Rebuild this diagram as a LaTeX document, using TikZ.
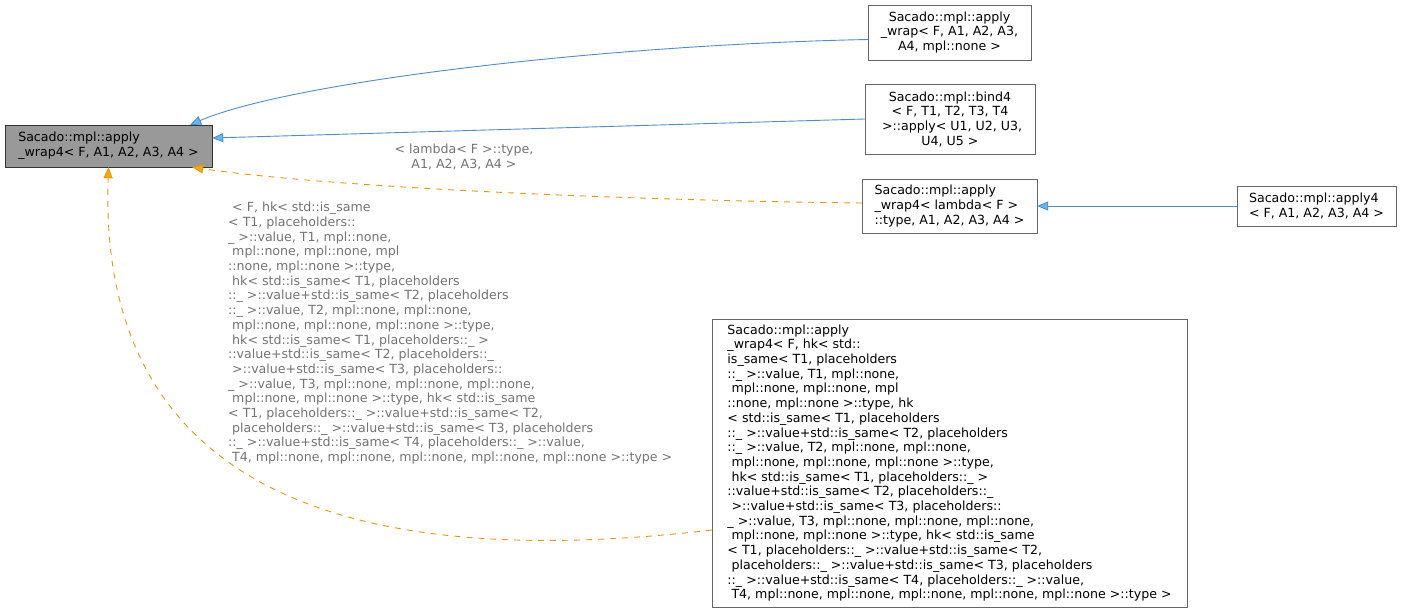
\documentclass[tikz,border=0pt]{standalone}
\usepackage{fontspec}
\setmainfont{DejaVu Sans}
\usetikzlibrary{arrows.meta}

\definecolor{edgeblue}{HTML}{4A8ED6}
\definecolor{tipblue}{HTML}{63B8FF}
\definecolor{edgeorange}{HTML}{E59A00}
\definecolor{tiporange}{HTML}{FFA500}

\newcommand{\dxfont}{\fontsize{12.6}{14.7}\selectfont}
\newcommand{\ind}{\hspace*{0.32em}}

\tikzset{
  cls/.style={draw=black!60, fill=white, inner sep=0pt, font=\dxfont},
  basecls/.style={cls, fill=black!40, draw=black!80},
  inherit/.style={draw=edgeblue, line width=0.9pt, -{Triangle[length=11pt,width=9pt,fill=tipblue]}},
  tmpl/.style={draw=edgeorange, line width=0.9pt, dash pattern=on 6pt off 6pt, -{Triangle[length=11pt,width=9pt,fill=tiporange]}},
  lbl/.style={text=black!55, inner sep=0pt, font=\dxfont},
}

\begin{document}
\begin{tikzpicture}[x=1pt,y=-1pt]
        \useasboundingbox (0,0) rectangle (1403,613);

        % Classes
        \node[basecls, align=left, minimum width=207pt, minimum height=42pt] (main) at (108.5,146)
            {Sacado::mpl::apply\\\_wrap4< F, A1, A2, A3, A4 >};
        \node[cls, align=center, minimum width=163pt, minimum height=55pt] (wrap) at (949.5,32.5)
            {Sacado::mpl::apply\\\_wrap< F, A1, A2, A3,\\A4, mpl::none >};
        \node[cls, align=center, minimum width=170pt, minimum height=70pt] (bind) at (950,119)
            {Sacado::mpl::bind4\\< F, T1, T2, T3, T4\\\ind>::apply< U1, U2, U3,\\U4, U5 >};
        \node[cls, align=left, minimum width=175pt, minimum height=54pt] (lambda) at (949.5,206)
            {Sacado::mpl::apply\\\_wrap4< lambda< F >\\::type, A1, A2, A3, A4 >};
        \node[cls, align=left, minimum width=159pt, minimum height=40pt] (apply) at (1316.5,206)
            {Sacado::mpl::apply4\\< F, A1, A2, A3, A4 >};
        \node[cls, align=left, minimum width=475pt, minimum height=288pt] (hk) at (949.5,463)
            {Sacado::mpl::apply\\
             \_wrap4< F, hk< std::\\
             is\_same< T1, placeholders\\
             ::\_ >::value, T1, mpl::none,\\
             \ind mpl::none, mpl::none, mpl\\
             ::none, mpl::none >::type, hk\\
             < std::is\_same< T1, placeholders\\
             ::\_ >::value+std::is\_same< T2, placeholders\\
             ::\_ >::value, T2, mpl::none, mpl::none,\\
             \ind mpl::none, mpl::none, mpl::none >::type,\\
             \ind hk< std::is\_same< T1, placeholders::\_ >\\
             ::value+std::is\_same< T2, placeholders::\_\\
             \ind >::value+std::is\_same< T3, placeholders::\\
             \_ >::value, T3, mpl::none, mpl::none, mpl::none,\\
             \ind mpl::none, mpl::none >::type, hk< std::is\_same\\
             < T1, placeholders::\_ >::value+std::is\_same< T2,\\
             \ind placeholders::\_ >::value+std::is\_same< T3, placeholders\\
             ::\_ >::value+std::is\_same< T4, placeholders::\_ >::value,\\
             \ind T4, mpl::none, mpl::none, mpl::none, mpl::none, mpl::none >::type >};

        % Inheritance
        \draw[inherit] ([yshift=-7pt]wrap.west) .. controls (600,45) and (290,82) .. ([xshift=-22pt]main.north east);
        \draw[inherit] (bind.west) -- ([yshift=8pt]main.east);
        \draw[inherit] (apply.west) -- (lambda.east);

        % Template instances
        \draw[tmpl] ([yshift=3pt]lambda.west) .. controls (600,200) and (320,186) .. ([xshift=-20pt]main.south east);
        \draw[tmpl] ([yshift=-67pt]hk.west) .. controls (320,576) and (98,472) .. (main.south);

        % Labels
        \node[lbl, align=center] (lbllambda) at (464,157) {< lambda< F >::type,\\A1, A2, A3, A4 >};
        \node[lbl, align=left, anchor=north west] (lblhk) at (228,202)
            {\ind < F, hk< std::is\_same\\
             < T1, placeholders::\\
             \_ >::value, T1, mpl::none,\\
             \ind mpl::none, mpl::none, mpl\\
             ::none, mpl::none >::type,\\
             \ind hk< std::is\_same< T1, placeholders\\
             ::\_ >::value+std::is\_same< T2, placeholders\\
             ::\_ >::value, T2, mpl::none, mpl::none,\\
             \ind mpl::none, mpl::none, mpl::none >::type,\\
             \ind hk< std::is\_same< T1, placeholders::\_ >\\
             ::value+std::is\_same< T2, placeholders::\_\\
             \ind >::value+std::is\_same< T3, placeholders::\\
             \_ >::value, T3, mpl::none, mpl::none, mpl::none,\\
             \ind mpl::none, mpl::none >::type, hk< std::is\_same\\
             < T1, placeholders::\_ >::value+std::is\_same< T2,\\
             \ind placeholders::\_ >::value+std::is\_same< T3, placeholders\\
             ::\_ >::value+std::is\_same< T4, placeholders::\_ >::value,\\
             \ind T4, mpl::none, mpl::none, mpl::none, mpl::none, mpl::none >::type >};
\end{tikzpicture}
\end{document}
